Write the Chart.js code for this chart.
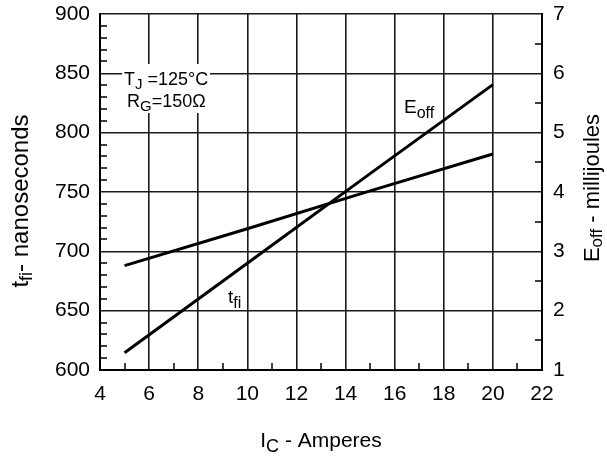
<!DOCTYPE html>
<html>
<head>
<meta charset="utf-8">
<script src="https://cdn.jsdelivr.net/npm/chart.js@4/dist/chart.umd.min.js"></script>
<style>
  html, body { margin: 0; padding: 0; background: #fff; }
  canvas { display: block; }
</style>
</head>
<body>
<canvas id="chart" width="607" height="465"></canvas>
<script>
// Collector current (A) at which both curves are given
const collectorCurrent = [5, 10, 15, 20];
// Current fall time, nanoseconds (left axis)
const fallTime = [688, 719, 751, 782];
// Turn-off energy, millijoules (right axis)
const turnOffEnergy = [1.29, 2.80, 4.31, 5.81];

// Axis tick values
const currentTicks = [4, 6, 8, 10, 12, 14, 16, 18, 20, 22];
const timeTicks = [600, 650, 700, 750, 800, 850, 900];
const energyTicks = [1, 2, 3, 4, 5, 6, 7];

const FONT = '"Liberation Sans", Arial, Helvetica, sans-serif';
const INK = '#000';

// Write a run of text pieces, some of them as subscripts
function drawRich(ctx, parts, x, y, size, align, subRatio, subDrop) {
  const subSize = Math.round(size * (subRatio || 0.75));
  const drop = subDrop == null ? size * 0.3 : subDrop;
  let total = 0;
  const widths = parts.map(p => {
    ctx.font = (p.sub ? subSize : size) + 'px ' + FONT;
    const w = ctx.measureText(p.t).width;
    total += w;
    return w;
  });
  let cx = align === 'center' ? x - total / 2 : x;
  ctx.textAlign = 'left';
  ctx.textBaseline = 'alphabetic';
  parts.forEach((p, i) => {
    ctx.font = (p.sub ? subSize : size) + 'px ' + FONT;
    ctx.fillText(p.t, cx, p.sub ? y + drop : y);
    cx += widths[i];
  });
  return total;
}

const decorations = {
  id: 'decorations',
  afterDraw(chart) {
    const ctx = chart.ctx;
    const xs = chart.scales.x, ys = chart.scales.y, yr = chart.scales.y1;
    const area = chart.chartArea;
    ctx.save();
    ctx.strokeStyle = INK;
    ctx.lineWidth = 1.5;
    ctx.beginPath();
    // minor ticks, pointing into the plot
    for (let v = 610; v < 900; v += 10) {
      if (v % 50 === 0) continue;
      const py = Math.round(ys.getPixelForValue(v));
      ctx.moveTo(area.left, py); ctx.lineTo(area.left + 7, py);
    }
    for (let v = 1.5; v < 7; v += 1) {
      const py = Math.round(yr.getPixelForValue(v));
      ctx.moveTo(area.right, py); ctx.lineTo(area.right - 7, py);
    }
    for (let v = 5; v < 22; v += 2) {
      const px = Math.round(xs.getPixelForValue(v));
      ctx.moveTo(px, area.bottom); ctx.lineTo(px, area.bottom - 7);
    }
    ctx.stroke();

    // test conditions box
    ctx.fillStyle = '#fff';
    ctx.fillRect(122, 64, 88, 49);
    ctx.fillStyle = INK;
    drawRich(ctx, [{t: 'T'}, {t: 'J', sub: true}, {t: ' =125°C'}], 124, 85, 18, 'left', 0.85, 4);
    drawRich(ctx, [{t: 'R'}, {t: 'G', sub: true}, {t: '=150Ω'}], 127, 107, 18, 'left', 0.85, 4);

    // curve labels
    drawRich(ctx, [{t: 'E'}, {t: 'off', sub: true}], 404, 113, 19, 'left', 0.85, 5);
    drawRich(ctx, [{t: 't'}, {t: 'fi', sub: true}], 228, 303, 19, 'left', 0.85, 5);

    // axis titles
    drawRich(ctx, [{t: 'I'}, {t: 'C', sub: true}, {t: ' - Amperes'}], 321, 447, 21, 'center', 0.85, 5);

    ctx.save();
    ctx.translate(28, 201);
    ctx.rotate(-Math.PI / 2);
    drawRich(ctx, [{t: 't'}, {t: 'fi', sub: true}, {t: '- nanoseconds'}], 0, 0, 24, 'center', 0.75, 4);
    ctx.restore();

    ctx.save();
    ctx.translate(599, 188);
    ctx.rotate(-Math.PI / 2);
    drawRich(ctx, [{t: 'E'}, {t: 'off', sub: true}, {t: ' - millijoules'}], 0, 0, 22, 'center', 0.75, 3);
    ctx.restore();

    ctx.restore();
  }
};

const gridStyle = { color: '#1a1a1a', lineWidth: 1.6, drawTicks: false };
const borderStyle = { color: INK, width: 2 };
const tickFont = { family: FONT, size: 21 };
const noPad = s => { s.paddingTop = 0; s.paddingBottom = 0; s.paddingLeft = 0; s.paddingRight = 0; };

new Chart(document.getElementById('chart'), {
  type: 'line',
  data: {
    datasets: [
      {
        label: 'tfi',
        data: collectorCurrent.map((x, i) => ({ x, y: fallTime[i] })),
        yAxisID: 'y',
        borderColor: INK,
        borderWidth: 3,
        pointRadius: 0,
        tension: 0
      },
      {
        label: 'Eoff',
        data: collectorCurrent.map((x, i) => ({ x, y: turnOffEnergy[i] })),
        yAxisID: 'y1',
        borderColor: INK,
        borderWidth: 3,
        pointRadius: 0,
        tension: 0
      }
    ]
  },
  options: {
    responsive: false,
    animation: false,
    devicePixelRatio: 1,
    layout: { padding: { top: 14, left: 0, right: 0, bottom: 0 } },
    plugins: { legend: { display: false }, tooltip: { enabled: false } },
    scales: {
      x: {
        type: 'linear',
        min: 4, max: 22,
        afterBuildTicks: s => { s.ticks = currentTicks.map(v => ({ value: v })); },
        afterFit: s => { s.height = 95; noPad(s); },
        grid: gridStyle,
        border: borderStyle,
        ticks: { color: INK, font: tickFont, padding: 12, maxRotation: 0 }
      },
      y: {
        type: 'linear',
        position: 'left',
        min: 600, max: 900,
        afterBuildTicks: s => { s.ticks = timeTicks.map(v => ({ value: v })); },
        afterFit: s => { s.width = 100; noPad(s); },
        grid: gridStyle,
        border: borderStyle,
        ticks: { color: INK, font: tickFont, padding: 10 }
      },
      y1: {
        type: 'linear',
        position: 'right',
        min: 1, max: 7,
        afterBuildTicks: s => { s.ticks = energyTicks.map(v => ({ value: v })); },
        afterFit: s => { s.width = 65; noPad(s); },
        grid: { drawOnChartArea: false, drawTicks: false },
        border: borderStyle,
        ticks: { color: INK, font: tickFont, padding: 11 }
      }
    }
  },
  plugins: [decorations]
});
</script>
</body>
</html>
